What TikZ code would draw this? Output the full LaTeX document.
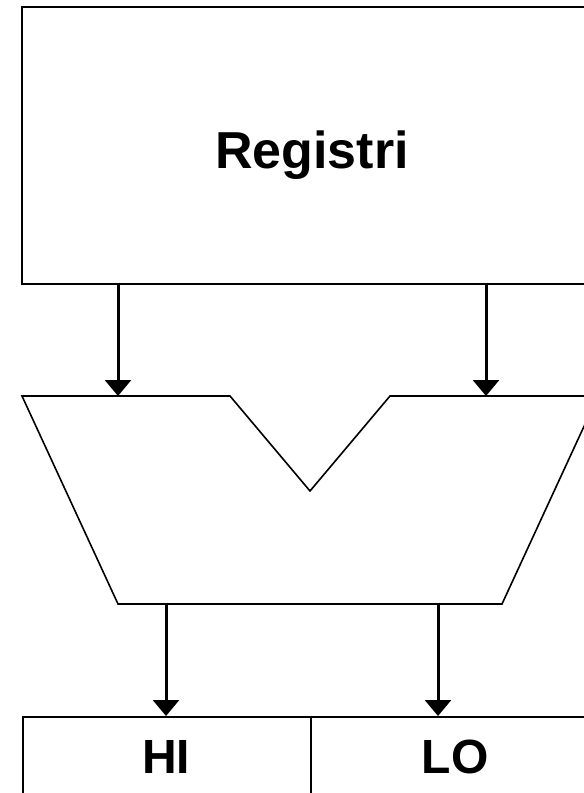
\documentclass[tikz,border=0pt]{standalone}
\usepackage{fontspec}
\setmainfont{Liberation Sans}
\usetikzlibrary{arrows.meta}
\begin{document}
\begin{tikzpicture}[x=1pt,y=-1pt,
  box/.style={draw,line width=2pt,rectangle,inner sep=0pt},
  lbox/.style={draw,line width=1.6pt,rectangle,inner sep=0pt},
  lab/.style={font=\fontsize{48}{56}\selectfont\bfseries},
  alu/.style={draw,line width=1.6pt,line join=miter},
  arr/.style={line width=3pt,-{Triangle[width=26pt,length=16pt]}}]
\useasboundingbox (0,0) rectangle (584,793);
\clip (0,0) rectangle (584,793);
\node[box,minimum width=578pt,minimum height=277pt,anchor=north west] (reg) at (21,6) {};
\node[font=\fontsize{52}{60}\selectfont\bfseries] (regl) at (312,155) {Registri};
% ALU shape
\coordinate (tl) at (22,396);
\coordinate (nl) at (230,396);
\coordinate (nb) at (310,491);
\coordinate (nr) at (390,396);
\coordinate (tr) at (598,396);
\coordinate (br) at (502,604);
\coordinate (bl) at (118,604);
\draw[alu] (tl) -- (nl) -- (nb) -- (nr) -- (tr) -- (br) -- (bl) -- cycle;
\coordinate (in1) at (118,396);
\coordinate (in2) at (486,396);
\coordinate (out1) at (166,604);
\coordinate (out2) at (438,604);
% result registers
\node[lbox,minimum width=288pt,minimum height=90pt,anchor=north west] (hi) at (22,716) {};
\node[lbox,minimum width=290pt,minimum height=90pt,anchor=north west] (lo) at (310,716) {};
\node[lab] (hil) at (166,757) {HI};
\node[lab] (lol) at (455,757) {LO};
\draw[arr] (reg.south -| in1) -- (in1);
\draw[arr] (reg.south -| in2) -- (in2);
\draw[arr] (out1) -- (hi.north -| out1);
\draw[arr] (out2) -- (lo.north -| out2);
\end{tikzpicture}
\end{document}
